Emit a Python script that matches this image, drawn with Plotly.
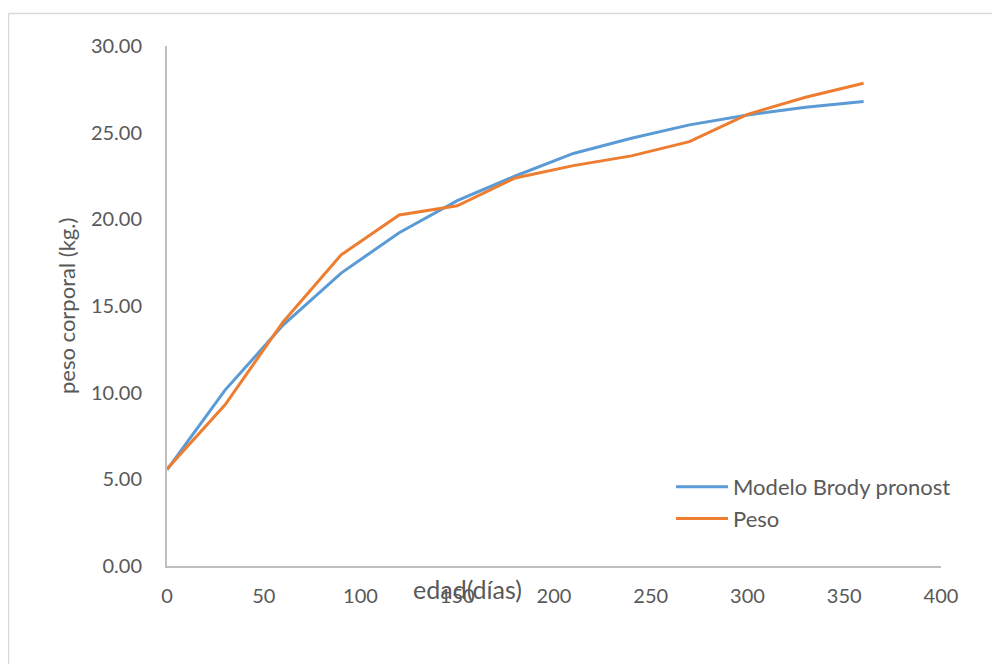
import plotly.graph_objects as go

edad = [0, 30, 60, 90, 120, 150, 180, 210, 240, 270, 300, 330, 360]
brody = [5.55, 10.15, 13.9, 16.9, 19.23, 21.08, 22.5, 23.8, 24.68, 25.45, 26.02, 26.46, 26.8]
peso = [5.6, 9.3, 14.08, 17.95, 20.25, 20.78, 22.39, 23.1, 23.66, 24.48, 26.06, 27.04, 27.85]

FONT = "Lato"
GREY = "#595959"

# page offset from default body margin
OFF = 8
PL, PT, PW, PH = 167 - OFF, 46 - OFF, 774, 520
FW, FH = 984, 656


def px(xp):
    return (xp - OFF - PL) / PW


def py(yp):
    return (PT + PH - (yp - OFF)) / PH


fig = go.Figure()
fig.add_trace(go.Scatter(x=edad, y=brody, mode="lines", name="Modelo Brody pronost",
                         line=dict(color="#5B9BD5", width=3)))
fig.add_trace(go.Scatter(x=edad, y=peso, mode="lines", name="Peso",
                         line=dict(color="#ED7D31", width=3)))

fig.update_layout(
    width=FW, height=FH,
    margin=dict(l=PL, r=FW - PL - PW, t=PT, b=FH - PT - PH),
    paper_bgcolor="white", plot_bgcolor="white",
    font=dict(family=FONT, size=20, color=GREY),
    showlegend=True,
    legend=dict(x=px(671), y=py(466), xanchor="left", yanchor="top",
                font=dict(family=FONT, size=22, color=GREY), itemwidth=52,
                bgcolor="rgba(0,0,0,0)", tracegroupgap=0),
    xaxis=dict(range=[0, 400], tickvals=[0, 50, 100, 150, 200, 250, 300, 350, 400],
               showgrid=False, zeroline=False, showline=True, linecolor="#BFBFBF",
               linewidth=2, ticks="", ticklabelstandoff=11),
    yaxis=dict(range=[0, 30], tickvals=[0, 5, 10, 15, 20, 25, 30], tickformat=".2f",
               showgrid=False, zeroline=False, showline=True, linecolor="#BFBFBF",
               linewidth=2, ticks="", ticklabelstandoff=19),
    annotations=[
        dict(text="edad(días)", xref="paper", yref="paper", x=px(467), y=py(589),
             xanchor="center", yanchor="middle", showarrow=False,
             font=dict(family=FONT, size=25, color=GREY)),
        dict(text="peso corporal (kg.)", xref="paper", yref="paper", x=px(66), y=py(306),
             xanchor="center", yanchor="middle", showarrow=False,
             textangle=-90, font=dict(family=FONT, size=22, color=GREY)),
    ],
    shapes=[
        dict(type="line", xref="paper", yref="paper", x0=px(8.5), x1=px(1010),
             y0=py(13.5), y1=py(13.5), line=dict(color="#D9D9D9", width=1.5)),
        dict(type="line", xref="paper", yref="paper", x0=px(8.5), x1=px(8.5),
             y0=py(13.5), y1=py(700), line=dict(color="#D9D9D9", width=1.5)),
    ],
)

fig.write_html("out.html")
